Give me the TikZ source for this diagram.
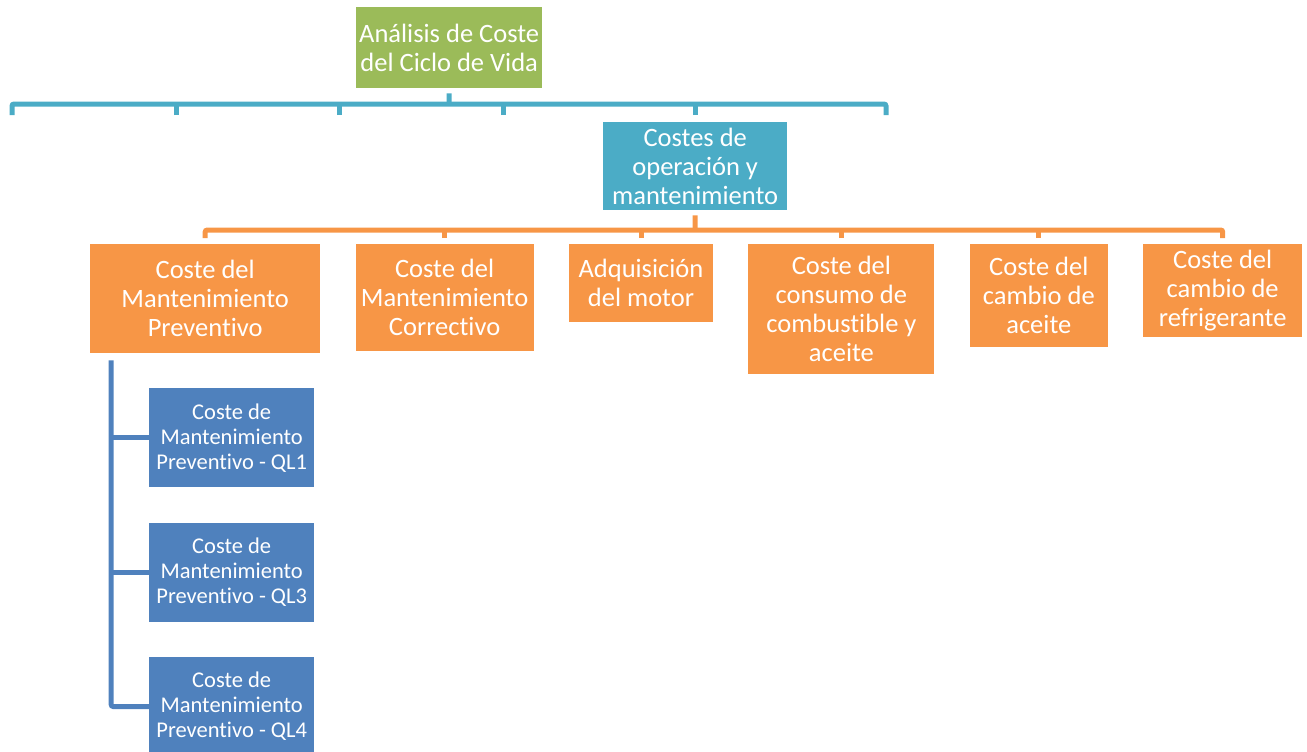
\documentclass[tikz,border=0pt]{standalone}
\usepackage{fontspec}
\setmainfont[RawFeature={-liga;-clig;-dlig;-calt}]{Carlito}
\usetikzlibrary{positioning}
\definecolor{ccvgreen}{HTML}{9BBB59}
\definecolor{ccvteal}{HTML}{4BACC6}
\definecolor{ccvorange}{HTML}{F79646}
\definecolor{ccvblue}{HTML}{4F81BD}

\begin{document}
\begin{tikzpicture}[x=1pt, y=-1pt,
    box/.style={anchor=north west, inner sep=0pt, align=center, text=white, font=\fontsize{26.5}{29}\selectfont},
    gbox/.style={box, fill=ccvgreen},
    tbox/.style={box, fill=ccvteal},
    obox/.style={box, fill=ccvorange},
    bbox/.style={box, fill=ccvblue, minimum width=165pt, minimum height=99pt, font=\fontsize{22.5}{25}\selectfont},
    tline/.style={draw=ccvteal, line width=5pt, rounded corners=2pt},
    oline/.style={draw=ccvorange, line width=5pt, rounded corners=2pt},
    bline/.style={draw=ccvblue, line width=5pt, rounded corners=2pt}]
    \useasboundingbox (0,0) rectangle (1307,752);
    % level 0
    \node[gbox, minimum width=186pt, minimum height=81pt] (root) at (356,7) {Análisis de Coste\\del Ciclo de Vida};
    \coordinate (tbar) at (449,104);
    \coordinate (e1) at (12,115);
    \coordinate (e2) at (176,115);
    \coordinate (e3) at (339,115);
    \coordinate (e4) at (503,115);
    \coordinate (e5) at (886,115);
    \draw[tline] (e1) -- (e1 |- tbar) -- (e5 |- tbar) -- (e5);
    \draw[tline] ([yshift=-5pt]root.south) -- (tbar);
    \draw[tline] (e2) -- (e2 |- tbar);
    \draw[tline] (e3) -- (e3 |- tbar);
    \draw[tline] (e4) -- (e4 |- tbar);
    % level 1
    \node[tbox, minimum width=184pt, minimum height=88pt] (ops) at (603,122) {Costes de\\operación y\\mantenimiento};
    \draw[tline] ([yshift=7pt]ops.north) -- (ops |- tbar);
    % level 2
    \node[obox, minimum width=230pt, minimum height=109pt] (p1) at (90,244) {Coste del\\Mantenimiento\\Preventivo};
    \node[obox, minimum width=178pt, minimum height=107pt, below right=0pt and 35pt of p1.north east] (p2) {Coste del\\Mantenimiento\\Correctivo};
    \node[obox, minimum width=144pt, minimum height=78pt, below right=0pt and 35pt of p2.north east] (p3) {Adquisición\\del motor};
    \node[obox, minimum width=186pt, minimum height=130pt, below right=0pt and 35pt of p3.north east] (p4) {Coste del\\consumo de\\combustible y\\aceite};
    \node[obox, minimum width=138pt, minimum height=103pt, below right=0pt and 35pt of p4.north east] (p5) {Coste del\\cambio de\\aceite};
    \node[obox, minimum width=159pt, minimum height=93pt, below right=0pt and 35pt of p5.north east] (p6) {Coste del\\cambio de\\refrigerante};
    \coordinate (obar) at (695,230);
    \draw[oline] ([yshift=-5pt]ops.south) -- (obar);
    \draw[oline] ([yshift=6pt]p1.north) -- (p1 |- obar) -- (p6 |- obar) -- ([yshift=6pt]p6.north);
    \draw[oline] ([yshift=6pt]p2.north) -- (p2 |- obar);
    \draw[oline] ([yshift=6pt]p3.north) -- (p3 |- obar);
    \draw[oline] ([yshift=6pt]p4.north) -- (p4 |- obar);
    \draw[oline] ([yshift=6pt]p5.north) -- (p5 |- obar);
    % level 3
    \node[bbox] (q1) at (149,388) {Coste de\\Mantenimiento\\Preventivo - QL1};
    \node[bbox, below=35pt of q1] (q2) {Coste de\\Mantenimiento\\Preventivo - QL3};
    \node[bbox, below=35pt of q2] (q3) {Coste de\\Mantenimiento\\Preventivo - QL4};
    \coordinate (vtop) at ([xshift=-94pt, yshift=-7pt]p1.south);
    \draw[bline] (vtop) |- (q3.west);
    \draw[bline] (q1.west) -- (q1.west -| vtop);
    \draw[bline] (q2.west) -- (q2.west -| vtop);
\end{tikzpicture}
\end{document}
